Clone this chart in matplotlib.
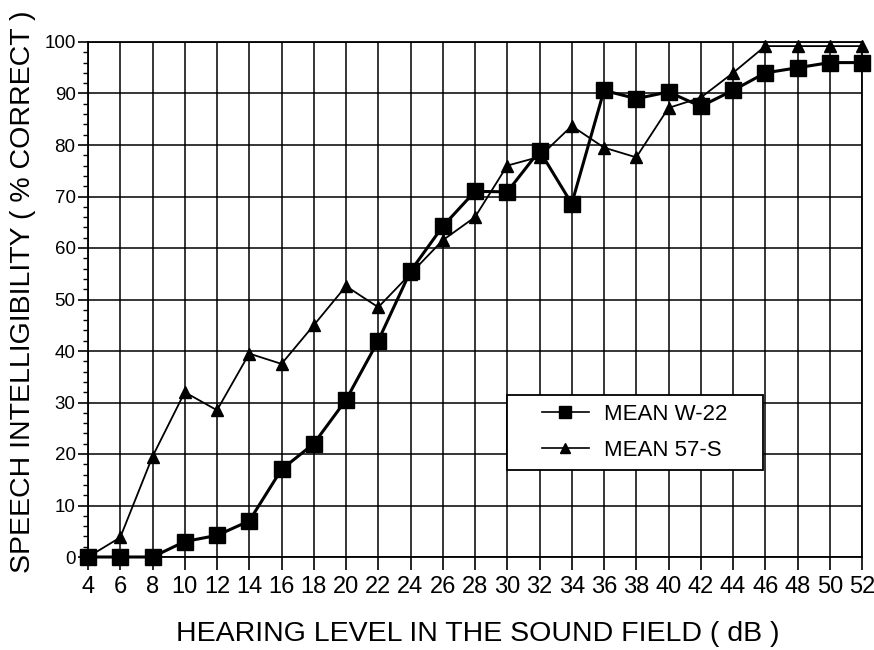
import numpy as np
import matplotlib
matplotlib.use("Agg")
import matplotlib.pyplot as plt
from matplotlib.patches import Rectangle
from matplotlib.ticker import MultipleLocator

hearing_level = [4, 6, 8, 10, 12, 14, 16, 18, 20, 22, 24, 26, 28,
                 30, 32, 34, 36, 38, 40, 42, 44, 46, 48, 50, 52]
mean_w22 = [0, 0, 0, 3, 4.2, 7, 17, 22, 30.5, 42, 55.5, 64.2, 71,
            70.9, 78.9, 68.6, 90.6, 89, 90.3, 87.5, 90.6, 94, 95, 96, 96]
mean_57s = [0, 3.8, 19.5, 32, 28.5, 39.5, 37.5, 45, 52.6, 48.5, 55, 61.5, 66,
            76, 77.7, 83.7, 79.5, 77.6, 87.2, 89.2, 94, 99.2, 99.2, 99.2, 99.2]

x_ticks = list(range(4, 53, 2))
y_ticks = list(range(0, 101, 10))

plt.rcParams['font.family'] = ['Liberation Sans', 'DejaVu Sans']

fig = plt.figure(figsize=(8.74, 6.5), dpi=100)
ax = fig.add_axes([88 / 874, 1 - 557 / 650, 774 / 874, 515 / 650])

ax.set_xlim(4, 52)
ax.set_ylim(0, 100)
ax.set_xticks(x_ticks)
ax.set_yticks(y_ticks)
ax.yaxis.set_minor_locator(MultipleLocator(2))
ax.set_xticklabels([str(v) for v in x_ticks],
                   family=['Liberation Sans Narrow', 'Liberation Sans'], fontsize=17)
ax.set_yticklabels([str(v) for v in y_ticks], fontsize=13.5)
ax.tick_params(axis='x', which='major', length=9, width=1.2, pad=5, direction='out')
ax.tick_params(axis='y', which='major', length=7, width=1.2, pad=2, direction='out')
ax.tick_params(axis='y', which='minor', length=3.5, width=1.0, direction='out')

for s in ax.spines.values():
    s.set_linewidth(1.3)
    s.set_color('black')

ax.grid(True, which='major', color='black', linewidth=1.1, zorder=0)
ax.set_axisbelow(True)

# white box behind the legend hides the grid
box = Rectangle((0.541, 0.169), 0.331, 0.146, transform=ax.transAxes,
                facecolor='white', edgecolor='black', linewidth=1.3, zorder=1.5)
ax.add_patch(box)

ax.plot(hearing_level, mean_w22, color='black', linewidth=2.2, marker='s',
        markersize=11, markerfacecolor='black', markeredgecolor='black',
        zorder=4, label='MEAN W-22', clip_on=False)
ax.plot(hearing_level, mean_57s, color='black', linewidth=1.3, marker='^',
        markersize=9, markerfacecolor='black', markeredgecolor='black',
        zorder=3, label='MEAN 57-S', clip_on=False)

leg = ax.legend(loc='center', bbox_to_anchor=(0.541 + 0.331 / 2, 0.169 + 0.146 / 2),
                frameon=False, fontsize=16, handlelength=2.1, handletextpad=0.7,
                labelspacing=0.7, numpoints=1, borderpad=0, markerscale=0.8)
for h in leg.legend_handles:
    h.set_linewidth(1.2)
leg.set_zorder(5)

fig.text(478 / 874, 1 - 634 / 650, 'HEARING LEVEL IN THE SOUND FIELD ( dB )',
         ha='center', va='center', fontsize=20.5)
fig.text(23.5 / 874, 1 - 292 / 650, 'SPEECH INTELLIGIBILITY ( % CORRECT )',
         ha='center', va='center', rotation=90, fontsize=20.5)

fig.savefig('out.png', dpi=100)
